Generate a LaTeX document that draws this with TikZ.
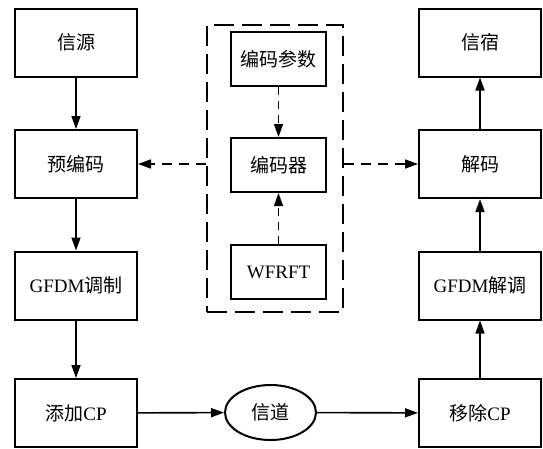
\documentclass[tikz,border=0pt]{standalone}
\usepackage{fontspec}
\setmainfont{Liberation Serif}
\newfontfamily\cjk{Noto Sans CJK SC}
\usetikzlibrary{arrows.meta,shapes.geometric}
\begin{document}
\begin{tikzpicture}[x=1pt,y=-1pt,
  txt/.style={font=\fontsize{19}{21}\selectfont},
  box/.style={draw,line width=2pt,minimum width=122pt,minimum height=68pt,inner sep=0pt,txt},
  ibox/.style={draw,line width=2pt,minimum width=95pt,minimum height=54pt,inner sep=0pt,txt},
  arr/.style={line width=1.6pt,-{Triangle[length=13pt,width=9pt]}},
  darr/.style={line width=1.6pt,dash pattern=on 10pt off 7pt,-{Triangle[length=13pt,width=9pt]}},
  iarr/.style={line width=1.4pt,dash pattern=on 8pt off 6pt,-{Triangle[length=13pt,width=9pt]}}]
\useasboundingbox (0,0) rectangle (543,448);
\node[box] (src) at (76,42.5) {\cjk 信源};
\node[box] (pre) at (76,164) {\cjk 预编码};
\node[box] (mod) at (76,285.5) {GFDM{\cjk 调制}};
\node[box] (addcp) at (76,413) {{\cjk 添加}CP};
\node[box] (sink) at (480,42.5) {\cjk 信宿};
\node[box] (dec) at (480,164) {\cjk 解码};
\node[box] (demod) at (480,285.5) {GFDM{\cjk 解调}};
\node[box] (rmcp) at (480,413) {{\cjk 移除}CP};
\node[draw,line width=2pt,dash pattern=on 20pt off 8pt,minimum width=136pt,minimum height=287pt,inner sep=0pt] (outer) at (275,168.5) {};
\node[ibox] (par) at (278.5,59) {\cjk 编码参数};
\node[ibox] (enc) at (278.5,165) {\cjk 编码器};
\node[ibox] (wf) at (278.5,272) {WFRFT};
\node[draw,ellipse,line width=2pt,minimum width=91pt,minimum height=55pt,inner sep=0pt,txt] (ch) at (270.5,412.5) {\cjk 信道};
\draw[arr] (src) -- (pre);
\draw[arr] (pre) -- (mod);
\draw[arr] (mod) -- (addcp);
\draw[arr] (addcp) -- (ch);
\draw[arr] (ch) -- (rmcp);
\draw[arr] (rmcp) -- (demod);
\draw[arr] (demod) -- (dec);
\draw[arr] (dec) -- (sink);
\draw[iarr] (par) -- (enc);
\draw[iarr] (wf) -- (enc);
\draw[darr] (pre.east -| outer.west) -- (pre.east);
\draw[darr] (dec.west -| outer.east) -- (dec.west);
\end{tikzpicture}
\end{document}
